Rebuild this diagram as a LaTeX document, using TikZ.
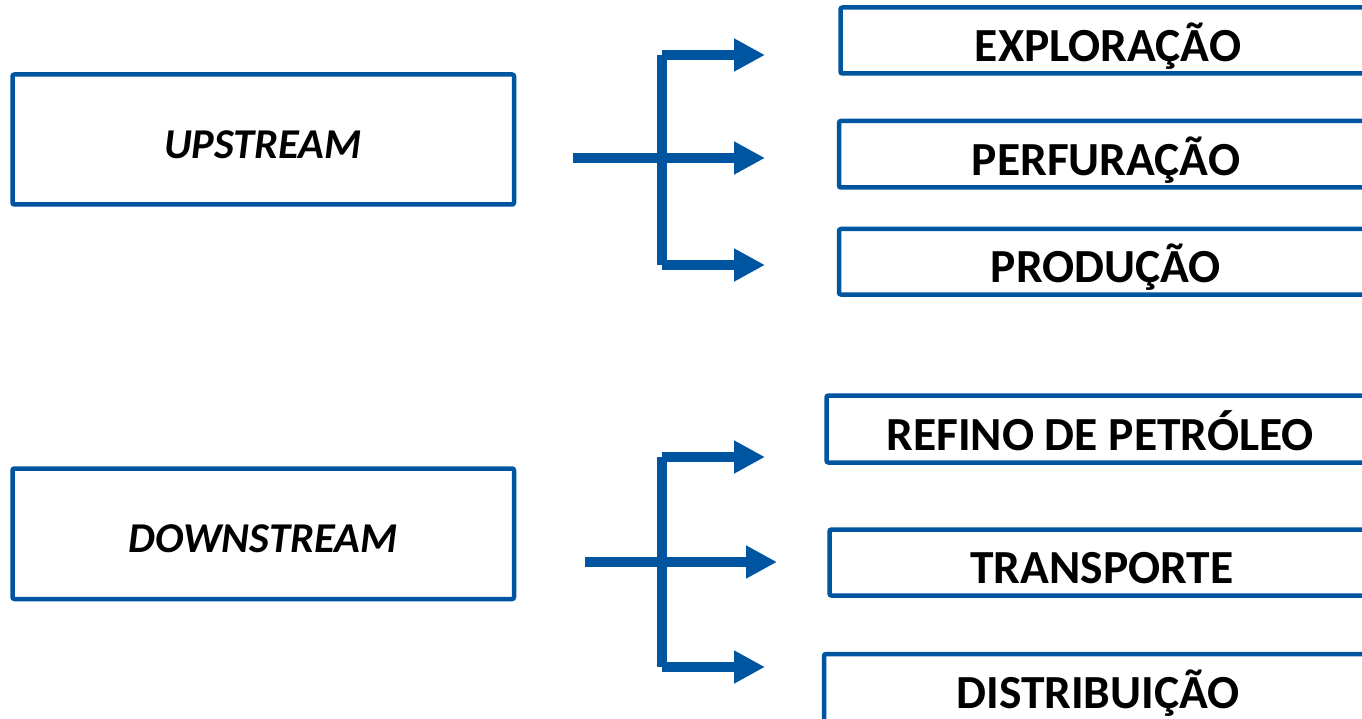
\documentclass[tikz,border=0pt]{standalone}
\usepackage{fontspec}
\setmainfont{Carlito}
\usetikzlibrary{arrows.meta}
\definecolor{flowblue}{RGB}{0,85,160}
\begin{document}
\begin{tikzpicture}[x=1pt,y=-1pt,
  box/.style={draw=flowblue, line width=4.5pt, rounded corners=2pt,
              fill=white, inner sep=0pt, outer sep=0pt},
  stagelbl/.style={anchor=base, inner sep=0pt,
              font=\fontsize{42.5}{46}\selectfont\bfseries\itshape},
  steplbl/.style={anchor=base, inner sep=0pt,
              font=\fontsize{47.5}{50}\selectfont\bfseries},
  flow/.style={draw=flowblue, line width=10pt},
  flowarrow/.style={flow, -{Triangle[length=31pt,width=31pt]}}]
\useasboundingbox (0,0) rectangle (1362,719);
\clip (0,0) rectangle (1362,719);

% main stage boxes
\node[box, minimum width=501.5pt, minimum height=130pt] (up) at (263.25,139.5) {};
\node[box, minimum width=501.5pt, minimum height=130.5pt] (down) at (263.25,533.75) {};
\node[stagelbl] (upt) at (263,159) {UPSTREAM};
\node[stagelbl] (downt) at (263,552) {DOWNSTREAM};

% activity boxes (running past the right edge)
\node[box, minimum width=534.5pt, minimum height=66pt]  (exp)  at (1107.75,40.5) {};
\node[box, minimum width=536pt,   minimum height=66.5pt] (perf) at (1107,154.25) {};
\node[box, minimum width=536pt,   minimum height=65.5pt] (prod) at (1107,261.75) {};
\node[box, minimum width=548.5pt, minimum height=67pt]  (ref)  at (1100.75,429) {};
\node[box, minimum width=545.5pt, minimum height=66pt]  (tra)  at (1102.25,562.5) {};
\node[box, minimum width=550pt,   minimum height=90pt]  (dist) at (1099,699) {};

\node[steplbl] (expt)  at (1108,62)  {EXPLORAÇÃO};
\node[steplbl] (perft) at (1106,176) {PERFURAÇÃO};
\node[steplbl] (prodt) at (1106,283) {PRODUÇÃO};
\node[steplbl] (reft)  at (1100,450) {REFINO DE PETRÓLEO};
\node[steplbl] (trat)  at (1102,583) {TRANSPORTE};
\node[steplbl] (distt) at (1098,708) {DISTRIBUIÇÃO};

% upstream branching
\coordinate (us) at (573,158);
\coordinate (uj1) at (662,55);
\coordinate (uj3) at (662,265);
\coordinate (ua1) at (765,55);
\coordinate (ua2) at (765,158);
\coordinate (ua3) at (765,265);
\draw[flow] (uj1) -- (uj3);
\draw[flowarrow] (us) -- (ua2);
\draw[flowarrow] (uj1) -- (ua1);
\draw[flowarrow] (uj3) -- (ua3);

% downstream branching
\coordinate (ds) at (585,562);
\coordinate (dj1) at (662,457);
\coordinate (dj3) at (662,667);
\coordinate (da1) at (765,457);
\coordinate (da2) at (777,562);
\coordinate (da3) at (765,667);
\draw[flow] (dj1) -- (dj3);
\draw[flowarrow] (ds) -- (da2);
\draw[flowarrow] (dj1) -- (da1);
\draw[flowarrow] (dj3) -- (da3);
\end{tikzpicture}
\end{document}
